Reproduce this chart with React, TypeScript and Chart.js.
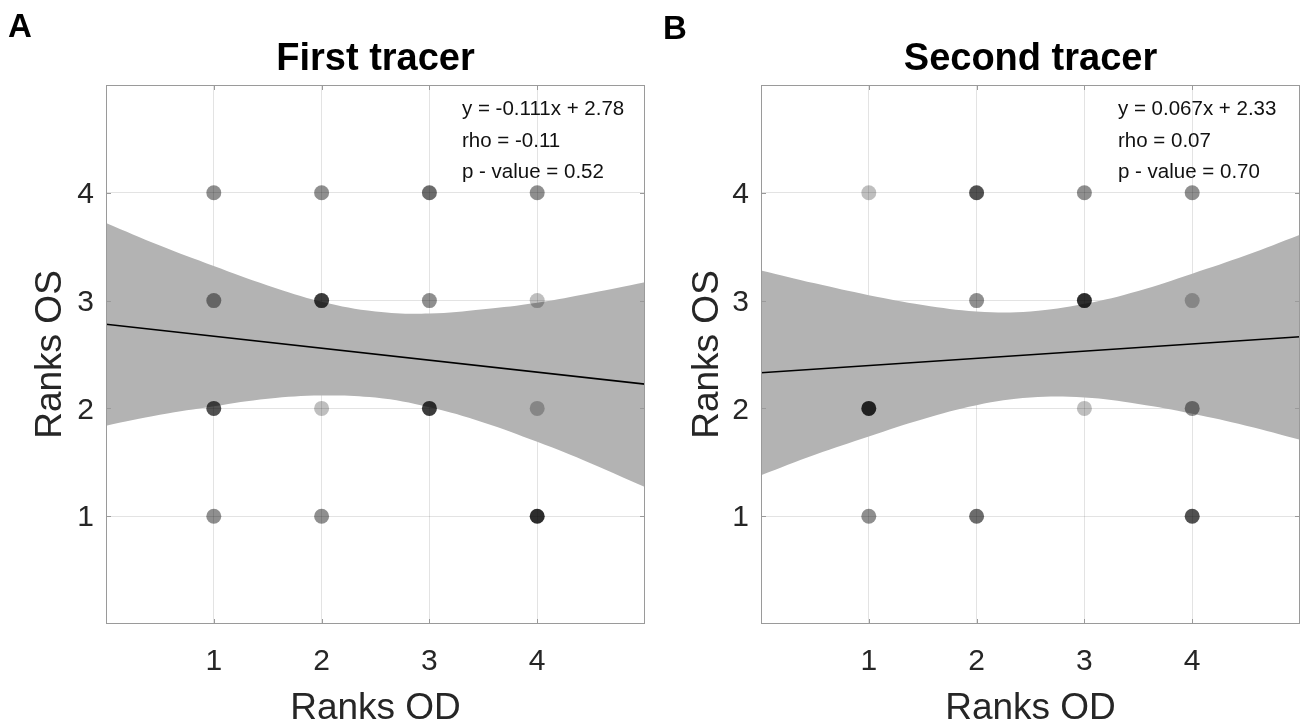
import React, { useEffect, useRef } from 'react';
import { Chart, registerables } from 'chart.js';

Chart.register(...registerables);

// ---- data ----
const ranksOD = [1, 2, 3, 4];
const ranksOS = [4, 3, 2, 1];
// number of subjects per (OD, OS) cell: rows follow ranksOS, columns follow ranksOD
const firstCounts = [
  [2, 2, 3, 2],
  [2, 5, 2, 1],
  [4, 1, 5, 1],
  [2, 2, 0, 6],
];
const secondCounts = [
  [1, 4, 2, 2],
  [0, 2, 6, 1],
  [6, 0, 1, 2],
  [2, 3, 0, 4],
];
const bandX = [0, 0.5, 1, 1.5, 2, 2.5, 3, 3.5, 4, 4.5, 5];
const firstUpper = [3.72, 3.51, 3.32, 3.14, 2.99, 2.9, 2.88, 2.92, 2.98, 3.07, 3.17];
const firstLower = [1.84, 1.94, 2.02, 2.09, 2.12, 2.1, 2.01, 1.87, 1.69, 1.49, 1.27];
const secondUpper = [3.28, 3.16, 3.05, 2.96, 2.9, 2.9, 2.97, 3.09, 3.25, 3.42, 3.61];
const secondLower = [1.38, 1.57, 1.74, 1.9, 2.03, 2.1, 2.1, 2.04, 1.95, 1.84, 1.71];
const fitX = [0, 5];
const firstFit = [2.78, 2.225];
const secondFit = [2.33, 2.665];
const firstStats = ['y = -0.111x + 2.78', 'rho = -0.11', 'p - value = 0.52'];
const secondStats = ['y = 0.067x + 2.33', 'rho = 0.07', 'p - value = 0.70'];

const FAMILY = '"Liberation Sans", Arial, Helvetica, sans-serif';
const TEXT = '#262626';
const FRAME = '#9a9a9a';

const overlayPlugin = {
  id: 'overlay',
  afterDraw(chart: any, _args: any, opts: any) {
    const { ctx, chartArea: ca } = chart;
    const xs = chart.scales.x;
    const ys = chart.scales.y;
    ctx.save();
    ctx.strokeStyle = FRAME;
    ctx.lineWidth = 1;
    ctx.strokeRect(ca.left + 0.5, ca.top + 0.5, ca.width - 1, ca.height - 1);
    ctx.beginPath();
    ranksOD.forEach((v) => {
      const px = Math.round(xs.getPixelForValue(v)) + 0.5;
      ctx.moveTo(px, ca.bottom);
      ctx.lineTo(px, ca.bottom - 5);
      ctx.moveTo(px, ca.top);
      ctx.lineTo(px, ca.top + 5);
    });
    ranksOS.forEach((v) => {
      const py = Math.round(ys.getPixelForValue(v)) + 0.5;
      ctx.moveTo(ca.left, py);
      ctx.lineTo(ca.left + 5, py);
      ctx.moveTo(ca.right, py);
      ctx.lineTo(ca.right - 5, py);
    });
    ctx.stroke();

    ctx.fillStyle = '#000';
    ctx.textBaseline = 'alphabetic';
    ctx.textAlign = 'center';
    ctx.font = `bold 38px ${FAMILY}`;
    ctx.fillText(opts.title, (ca.left + ca.right) / 2, 70);

    ctx.textAlign = 'left';
    ctx.font = `bold 33px ${FAMILY}`;
    ctx.fillText(opts.letter, opts.letterX, opts.letterY);

    ctx.font = `20.5px ${FAMILY}`;
    ctx.fillStyle = '#111';
    opts.stats.forEach((s: string, i: number) => {
      ctx.fillText(s, opts.statsX, 115 + i * 31.5);
    });
    ctx.restore();
  },
};

type PanelProps = {
  left: number;
  title: string;
  letter: string;
  letterX: number;
  letterY: number;
  counts: number[][];
  upper: number[];
  lower: number[];
  fit: number[];
  stats: string[];
  statsX: number;
  yWidth: number;
  yTitlePad: number;
  padRight: number;
};

function Panel(p: PanelProps) {
  const ref = useRef<HTMLCanvasElement | null>(null);
  useEffect(() => {
    if (!ref.current) return;
    const pts: { x: number; y: number }[] = [];
    const cols: string[] = [];
    p.counts.forEach((row, i) =>
      row.forEach((n, j) => {
        if (n > 0) {
          pts.push({ x: ranksOD[j], y: ranksOS[i] });
          cols.push(`rgba(0,0,0,${(1 - Math.pow(0.75, n)).toFixed(3)})`);
        }
      })
    );
    const chart = new Chart(ref.current, {
      type: 'scatter',
      data: {
        datasets: [
          {
            data: pts,
            backgroundColor: cols,
            pointRadius: 7.5,
            pointBorderWidth: 0,
            borderWidth: 0,
            order: 0,
          } as any,
          {
            data: fitX.map((x, i) => ({ x, y: p.fit[i] })),
            showLine: true,
            borderColor: '#000',
            borderWidth: 1.6,
            pointRadius: 0,
            order: 1,
          } as any,
          {
            data: bandX.map((x, i) => ({ x, y: p.upper[i] })),
            showLine: true,
            borderColor: 'transparent',
            borderWidth: 0,
            pointRadius: 0,
            tension: 0.4,
            fill: '+1',
            backgroundColor: '#b3b3b3',
            order: 2,
          } as any,
          {
            data: bandX.map((x, i) => ({ x, y: p.lower[i] })),
            showLine: true,
            borderColor: 'transparent',
            borderWidth: 0,
            pointRadius: 0,
            tension: 0.4,
            fill: false,
            order: 3,
          } as any,
        ],
      },
      options: {
        animation: false,
        responsive: false,
        maintainAspectRatio: false,
        layout: { autoPadding: false, padding: { left: 0, right: p.padRight, top: 85, bottom: 0 } },
        plugins: {
          legend: { display: false },
          tooltip: { enabled: false },
          title: { display: false },
          overlay: {
            title: p.title,
            letter: p.letter,
            letterX: p.letterX,
            letterY: p.letterY,
            stats: p.stats,
            statsX: p.statsX,
          },
        } as any,
        scales: {
          x: {
            type: 'linear',
            min: 0,
            max: 5,
            z: 1,
            afterBuildTicks: (s: any) => {
              s.ticks = ranksOD.map((v) => ({ value: v }));
            },
            afterFit: (s: any) => {
              s.height = 103;
              s.paddingLeft = 0;
              s.paddingRight = 0;
            },
            border: { display: false },
            grid: { color: 'rgba(38,38,38,0.13)', drawTicks: false, lineWidth: 1 },
            ticks: {
              font: { size: 30, family: FAMILY },
              color: TEXT,
              padding: 20,
              callback: (v: any) => String(v),
            },
            title: {
              display: true,
              text: 'Ranks OD',
              color: TEXT,
              font: { size: 37, family: FAMILY, lineHeight: 1 },
              padding: { top: 0, bottom: 0 },
            },
          } as any,
          y: {
            type: 'linear',
            min: 0,
            max: 5,
            z: 1,
            afterBuildTicks: (s: any) => {
              s.ticks = ranksOS.slice().reverse().map((v) => ({ value: v }));
            },
            afterFit: (s: any) => {
              s.width = p.yWidth;
              s.paddingTop = 0;
              s.paddingBottom = 0;
            },
            border: { display: false },
            grid: { color: 'rgba(38,38,38,0.13)', drawTicks: false, lineWidth: 1 },
            ticks: {
              font: { size: 30, family: FAMILY },
              color: TEXT,
              padding: 12,
              labelOffset: 2,
              callback: (v: any) => String(v),
            },
            title: {
              display: true,
              text: 'Ranks OS',
              color: TEXT,
              font: { size: 37, family: FAMILY, lineHeight: 1 },
              padding: { top: p.yTitlePad, bottom: 0 },
            },
          } as any,
        },
      },
      plugins: [overlayPlugin as any],
    });
    return () => chart.destroy();
  }, []);
  return (
    <canvas
      ref={ref}
      width={651}
      height={727}
      style={{ position: 'absolute', top: 0, left: p.left, width: 651, height: 727 }}
    />
  );
}

export default function App() {
  return (
    <div style={{ position: 'absolute', top: 0, left: 0, width: 1302, height: 727, background: '#fff' }}>
      <Panel
        left={0}
        title="First tracer"
        letter="A"
        letterX={8}
        letterY={37}
        counts={firstCounts}
        upper={firstUpper}
        lower={firstLower}
        fit={firstFit}
        stats={firstStats}
        statsX={462}
        yWidth={106}
        yTitlePad={32}
        padRight={6}
      />
      <Panel
        left={651}
        title="Second tracer"
        letter="B"
        letterX={12}
        letterY={39}
        counts={secondCounts}
        upper={secondUpper}
        lower={secondLower}
        fit={secondFit}
        stats={secondStats}
        statsX={467}
        yWidth={110}
        yTitlePad={38}
        padRight={2}
      />
    </div>
  );
}
